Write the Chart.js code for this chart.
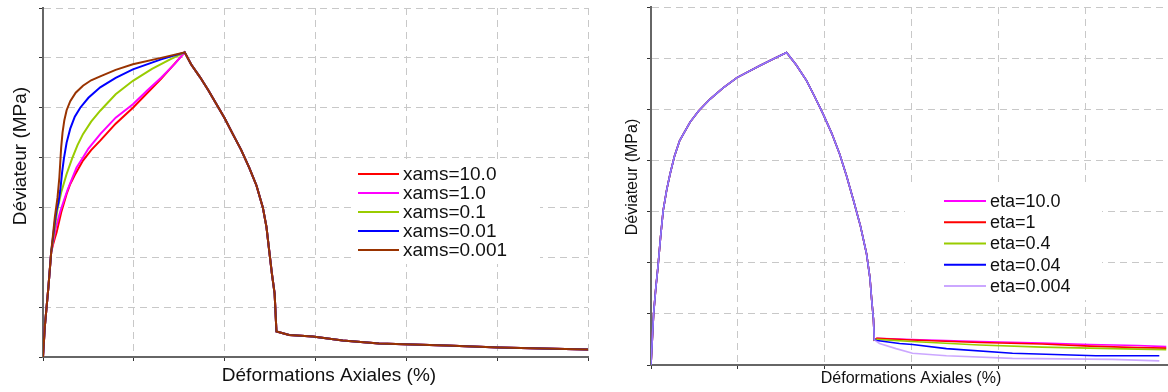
<!DOCTYPE html>
<html>
<head>
<meta charset="utf-8">
<script src="https://cdn.jsdelivr.net/npm/chart.js@4.4.0/dist/chart.umd.min.js"></script>
<style>
html,body{margin:0;padding:0;background:#fff;}
#wrap{position:relative;width:1168px;height:392px;overflow:hidden;}
.box{position:absolute;top:0;height:392px;}
#boxL{left:0;width:600px;}
#boxR{left:600px;width:568px;}
</style>
</head>
<body>
<div id="wrap">
  <div class="box" id="boxL"><canvas id="chartL"></canvas></div>
  <div class="box" id="boxR"><canvas id="chartR"></canvas></div>
</div>
<script>
//---- données : graphique de gauche (xams) ----
const xamsLabels = ['xams=10.0', 'xams=1.0', 'xams=0.1', 'xams=0.01', 'xams=0.001'];
const xamsColors = ['#ff0000', '#ff00ff', '#99cc00', '#0000ff', '#993300'];
// montée élastique commune
const riseX = [0, 0.02, 0.06, 0.09];
const riseY = [0, 0.61, 1.41, 2.1];
// écrouissage, par courbe
const xams10X = [0.11, 0.13, 0.15, 0.2, 0.26, 0.3, 0.35, 0.44, 0.53, 0.63, 0.8, 0.99, 1.3, 1.56];
const xams10Y = [2.25, 2.38, 2.5, 2.9, 3.27, 3.47, 3.65, 3.94, 4.15, 4.34, 4.68, 5.0, 5.58, 6.11];
const xams1X = [0.11, 0.14, 0.19, 0.23, 0.27, 0.32, 0.37, 0.44, 0.5, 0.63, 0.8, 0.99, 1.15, 1.3, 1.45, 1.56];
const xams1Y = [2.3, 2.58, 2.92, 3.14, 3.35, 3.58, 3.8, 4.0, 4.18, 4.47, 4.8, 5.07, 5.35, 5.6, 5.88, 6.11];
const xams01X = [0.11, 0.13, 0.16, 0.2, 0.26, 0.32, 0.38, 0.44, 0.53, 0.63, 0.8, 0.99, 1.2, 1.4, 1.56];
const xams01Y = [2.35, 2.6, 2.97, 3.3, 3.67, 3.98, 4.25, 4.47, 4.72, 4.94, 5.27, 5.54, 5.78, 5.97, 6.11];
const xams001X = [0.11, 0.13, 0.15, 0.17, 0.19, 0.21, 0.23, 0.26, 0.3, 0.35, 0.41, 0.5, 0.63, 0.8, 0.99, 1.3, 1.56];
const xams001Y = [2.4, 2.7, 2.95, 3.1, 3.34, 3.7, 3.98, 4.3, 4.58, 4.82, 5.0, 5.2, 5.41, 5.6, 5.77, 5.97, 6.11];
const xams0001X = [0.11, 0.13, 0.16, 0.18, 0.19, 0.2, 0.215, 0.235, 0.26, 0.3, 0.36, 0.44, 0.53, 0.63, 0.8, 0.99, 1.3, 1.56];
const xams0001Y = [2.45, 2.8, 3.2, 3.6, 3.9, 4.2, 4.5, 4.75, 4.95, 5.13, 5.3, 5.44, 5.55, 5.63, 5.76, 5.87, 6.0, 6.11];
// radoucissement + résiduel commun
const softX = [1.63, 1.73, 1.82, 1.91, 2.0, 2.09, 2.18, 2.27, 2.35, 2.42, 2.46, 2.49, 2.52, 2.55, 2.57,
               2.71, 2.97, 3.3, 3.7, 4.44, 5.02, 5.5, 6.01];
const softY = [5.87, 5.61, 5.35, 5.07, 4.79, 4.47, 4.16, 3.8, 3.44, 3.0, 2.61, 2.14, 1.67, 1.27, 0.51,
               0.44, 0.41, 0.33, 0.27, 0.23, 0.19, 0.17, 0.15];

//---- données : graphique de droite (eta) ----
const etaLabels = ['eta=10.0', 'eta=1', 'eta=0.4', 'eta=0.04', 'eta=0.004'];
const etaColors = ['#ff00ff', '#ff0000', '#99cc00', '#0000ff', 'rgba(190,145,255,0.8)'];
// partie commune (pic + radoucissement)
const etaBaseX = [0, 0.015, 0.03, 0.055, 0.08, 0.11, 0.14, 0.18, 0.22, 0.27, 0.33, 0.45, 0.55, 0.68, 0.83, 0.99, 1.25, 1.4, 1.56,
                  1.67, 1.79, 1.88, 1.98, 2.08, 2.17, 2.25, 2.33, 2.41, 2.48, 2.52, 2.54, 2.56, 2.57];
const etaBaseY = [0, 0.5, 1.0, 1.5, 1.92, 2.5, 3.02, 3.42, 3.74, 4.08, 4.39, 4.75, 4.97, 5.2, 5.42, 5.62, 5.85, 5.98, 6.11,
                  5.87, 5.56, 5.26, 4.91, 4.53, 4.13, 3.7, 3.22, 2.72, 2.18, 1.7, 1.27, 0.9, 0.49];
// résiduels
const eta10X = [2.6, 3.0, 3.78, 4.5, 5.05, 5.6, 5.93];
const eta10Y = [0.52, 0.50, 0.46, 0.43, 0.40, 0.38, 0.36];
const eta1X = [2.6, 3.0, 3.78, 4.5, 5.05, 5.6, 5.93];
const eta1Y = [0.52, 0.49, 0.44, 0.41, 0.37, 0.34, 0.33];
const eta04X = [2.6, 3.0, 3.78, 4.5, 5.05, 5.6, 5.93];
const eta04Y = [0.50, 0.46, 0.39, 0.35, 0.33, 0.31, 0.30];
const eta004X = [2.6, 2.86, 3.01, 3.4, 4.16, 5.12, 5.85];
const eta004Y = [0.48, 0.42, 0.40, 0.32, 0.23, 0.18, 0.18];
const eta0004X = [2.63, 2.82, 3.01, 3.4, 4.16, 5.31, 5.85];
const eta0004Y = [0.42, 0.32, 0.23, 0.18, 0.13, 0.11, 0.08];

//points {x,y}
function pts(xs, ys){
    return xs.map((x, i) => ({x: x, y: ys[i]}));
}

const FONT = '"Liberation Sans", Arial, sans-serif';

//légende encadrée + titres d'axes
const boxLegend = {
    id: 'boxLegend',
    afterDatasetsDraw(chart, args, o){
        const ctx = chart.ctx;
        ctx.save();
        ctx.fillStyle = '#fff';
        ctx.fillRect(o.bx, o.by, o.bw, o.bh);
        ctx.font = o.size + 'px ' + FONT;
        ctx.textBaseline = 'middle';
        ctx.textAlign = 'left';
        chart.data.datasets.forEach((ds, i) => {
            const y = o.y0 + i * o.dy;
            ctx.strokeStyle = ds.borderColor;
            ctx.lineWidth = 2;
            ctx.beginPath();
            ctx.moveTo(o.lx0, y);
            ctx.lineTo(o.lx1, y);
            ctx.stroke();
            ctx.fillStyle = '#111';
            ctx.fillText(ds.label, o.tx, y + 1);
        });
        ctx.restore();
    },
    afterDraw(chart, args, o){
        const ctx = chart.ctx;
        ctx.save();
        ctx.fillStyle = '#111';
        ctx.textAlign = 'center';
        ctx.textBaseline = 'middle';
        ctx.font = o.titleSize + 'px ' + FONT;
        ctx.fillText(o.xTitle, o.xtx, o.xty);
        ctx.translate(o.ytx, o.yty);
        ctx.rotate(-Math.PI / 2);
        ctx.fillText(o.yTitle, 0, 0);
        ctx.restore();
    }
};

function axisOpts(max, fitFn){
    return {
        type: 'linear', min: 0, max: max,
        ticks: {display: false, stepSize: 1, includeBounds: false},
        grid: {color: '#c8c8c8', lineWidth: 1, drawTicks: true, tickLength: 4,
               tickColor: '#333', tickWidth: 1, tickBorderDash: []},
        border: {display: true, color: '#666', width: 2, dash: [7, 5]},
        afterFit: fitFn
    };
}

//チャート描画
function newChart(ctxId, datasets, cfg){
    const ctx = document.getElementById(ctxId).getContext('2d');
    return new Chart(ctx, {
        type: 'line',
        data: {datasets: datasets},
        options: {
            responsive: true,
            maintainAspectRatio: false,
            animation: false,
            layout: {padding: cfg.padding},
            elements: {point: {radius: 0}, line: {tension: 0}},
            scales: {
                x: axisOpts(cfg.xMax, s => { s.height = cfg.xH; }),
                y: axisOpts(7, s => { s.width = cfg.yW; })
            },
            plugins: {
                legend: {display: false},
                tooltip: {enabled: false},
                boxLegend: cfg.legend
            }
        },
        plugins: [boxLegend]
    });
}

window.addEventListener('DOMContentLoaded', () => {
    const leftX = [xams10X, xams1X, xams01X, xams001X, xams0001X];
    const leftY = [xams10Y, xams1Y, xams01Y, xams001Y, xams0001Y];
    const left = xamsLabels.map((lab, i) => ({
        label: lab,
        data: pts(riseX.concat(leftX[i], softX), riseY.concat(leftY[i], softY)),
        borderColor: xamsColors[i],
        borderWidth: 2,
        order: 4 - i
    }));
    newChart('chartL', left, {
        xMax: 6, xH: 35, yW: 43,
        padding: {left: 0, top: 8, right: 12, bottom: 0},
        legend: {bx: 353, by: 160, bw: 187, bh: 104, lx0: 358, lx1: 399, tx: 403,
                 y0: 174, dy: 19, size: 19,
                 titleSize: 19, xTitle: 'Déformations Axiales (%)', xtx: 329, xty: 376,
                 yTitle: 'Déviateur (MPa)', ytx: 21, yty: 156}
    });

    const rightX = [eta10X, eta1X, eta04X, eta004X, eta0004X];
    const rightY = [eta10Y, eta1Y, eta04Y, eta004Y, eta0004Y];
    const right = etaLabels.map((lab, i) => ({
        label: lab,
        data: pts(etaBaseX.concat(rightX[i]), etaBaseY.concat(rightY[i])),
        borderColor: etaColors[i],
        borderWidth: 1.6,
        order: 4 - i
    }));
    newChart('chartR', right, {
        xMax: 5.95, xH: 27, yW: 51,
        padding: {left: 0, top: 7, right: 0, bottom: 0},
        legend: {bx: 305, by: 187, bw: 197, bh: 113, lx0: 344, lx1: 386, tx: 390,
                 y0: 201, dy: 21.25, size: 18,
                 titleSize: 16, xTitle: 'Déformations Axiales (%)', xtx: 311, xty: 379,
                 yTitle: 'Déviateur (MPa)', ytx: 33, yty: 177}
    });
});
</script>
</body>
</html>
